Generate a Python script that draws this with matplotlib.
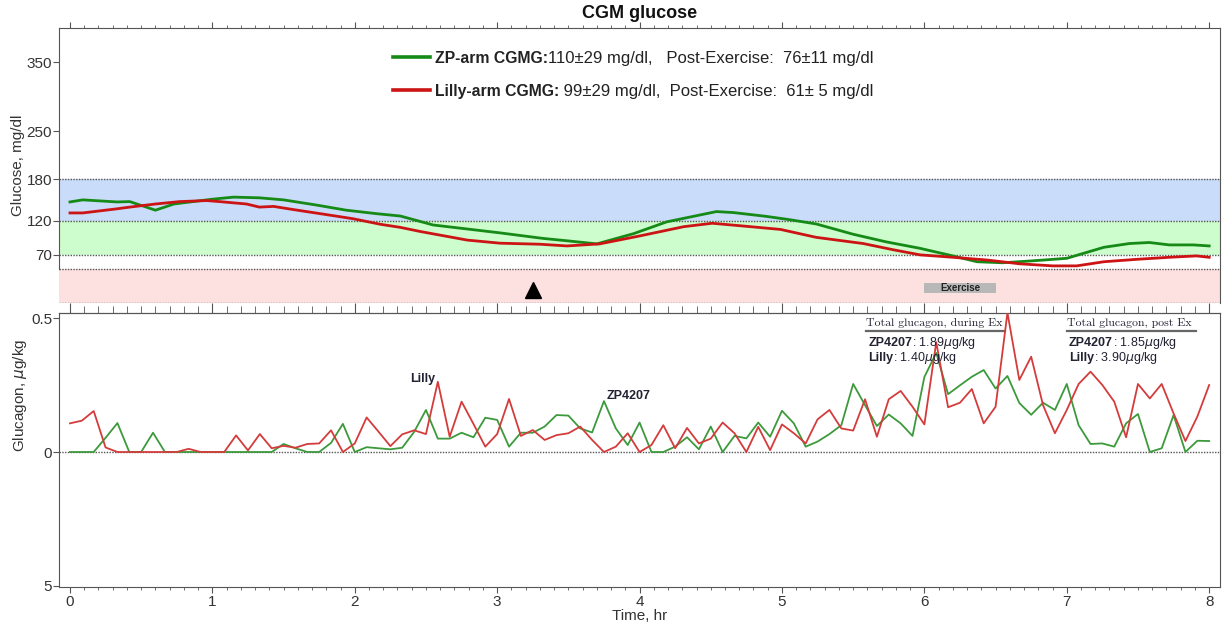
import numpy as np
import matplotlib.pyplot as plt
from matplotlib.patches import Rectangle
from matplotlib.ticker import MultipleLocator

plt.rcParams['font.family'] = ['Liberation Sans', 'DejaVu Sans']
plt.rcParams['mathtext.fontset'] = 'dejavusans'

# ---- CGM glucose (mg/dl) ----
zp_glu_hr = [0, 0.09, 0.33, 0.42, 0.6, 0.73, 1.0, 1.15, 1.33, 1.5, 1.73, 1.94, 2.15, 2.32,
             2.55, 3.02, 3.32, 3.49, 3.7, 3.96, 4.19, 4.54, 4.66, 4.89, 5.06, 5.24, 5.5,
             5.73, 5.97, 6.2, 6.37, 6.55, 6.77, 7.0, 7.26, 7.44, 7.58, 7.72, 7.89, 8.0]
zp_glu = [147, 150, 147, 147.5, 135, 144, 151, 154, 153, 150, 142.5, 135, 130, 126.5,
          113.5, 102, 94, 90.5, 86, 101, 118, 133, 131.5, 126, 121, 115, 100,
          89, 79.5, 68.5, 60, 58.5, 61.5, 65, 81, 86.5, 88, 84.5, 84.5, 83]

lilly_glu_hr = [0, 0.09, 0.33, 0.42, 0.6, 0.77, 0.96, 1.05, 1.24, 1.33, 1.43, 1.55, 1.85,
                1.99, 2.18, 2.32, 2.46, 2.79, 3.02, 3.3, 3.49, 3.72, 4.0, 4.31, 4.51, 4.78,
                4.99, 5.24, 5.57, 5.78, 5.97, 6.2, 6.44, 6.67, 6.9, 7.07, 7.26, 7.49, 7.72,
                7.91, 8.0]
lilly_glu = [131, 131, 137, 139.5, 144, 147.5, 149, 147.5, 144, 139.5, 140.5, 136.5, 127,
             122.5, 114.5, 110, 104, 91.5, 87, 85.5, 83, 86, 97.5, 111, 116, 111,
             107, 95.5, 86.5, 77.5, 70, 66.5, 62.5, 57, 54, 54, 60, 63.5, 66.5,
             68.5, 66.5]

# ---- glucagon doses (ug/kg), every 5 min ----
zp_gcg = [0, 0, 0, 0.053, 0.108, 0, 0, 0.072, 0, 0, 0, 0, 0, 0, 0, 0, 0, 0, 0.03, 0.014,
          0, 0, 0.034, 0.105, 0, 0.018, 0.014, 0.01, 0.016, 0.075, 0.157, 0.05, 0.05, 0.072,
          0.055, 0.128, 0.12, 0.02, 0.072, 0.072, 0.095, 0.138, 0.136, 0.088, 0.073, 0.19,
          0.088, 0.026, 0.11, 0, 0, 0.02, 0.055, 0.01, 0.095, 0, 0.06, 0.051, 0.11, 0.057,
          0.154, 0.107, 0.02, 0.039, 0.067, 0.1, 0.254, 0.175, 0.097, 0.14, 0.107, 0.06,
          0.28, 0.37, 0.216, 0.249, 0.281, 0.306, 0.237, 0.284, 0.183, 0.139, 0.184, 0.157,
          0.254, 0.1, 0.03, 0.032, 0.02, 0.107, 0.142, 0, 0.014, 0.138, 0, 0.042, 0.041]
lilly_gcg = [0.107, 0.117, 0.153, 0.017, 0, 0, 0, 0, 0, 0, 0.012, 0, 0, 0, 0.062, 0.006,
             0.067, 0.014, 0.023, 0.016, 0.03, 0.032, 0.081, 0, 0.032, 0.129, 0.076, 0.022,
             0.066, 0.081, 0.067, 0.262, 0.057, 0.188, 0.105, 0.02, 0.067, 0.198, 0.06,
             0.082, 0.045, 0.063, 0.07, 0.095, 0.045, 0, 0.02, 0.07, 0, 0.026, 0.1, 0.014,
             0.09, 0.032, 0.05, 0.11, 0.07, 0, 0.094, 0.007, 0.103, 0.07, 0.032, 0.122,
             0.157, 0.088, 0.08, 0.197, 0.057, 0.197, 0.228, 0.169, 0.103, 0.41, 0.167,
             0.184, 0.235, 0.107, 0.169, 0.52, 0.269, 0.356, 0.175, 0.07, 0.157, 0.254,
             0.3, 0.25, 0.188, 0.055, 0.254, 0.2, 0.254, 0.144, 0.041, 0.132, 0.25]
gcg_hr = np.arange(len(zp_gcg)) * 5 / 60.0

glu_ticks = [70, 120, 180, 250, 350]
gcg_ticks = [-0.5, 0, 0.5]
gcg_ticklabels = ['5', '0', '0.5']

dose_hr = 3.25
exercise = (6.0, 6.5)

zp_line = '#168a16'
lilly_line = '#cc1414'
zp_thin = '#3c9a3c'
lilly_thin = '#d43c3c'
spine_c = '#555555'
txt_c = '#333333'

W, H = 1223, 625
fig = plt.figure(figsize=(W / 100, H / 100), dpi=100)
ax1 = fig.add_axes([59 / W, 1 - 303 / H, 1161 / W, 275 / H])
ax2 = fig.add_axes([59 / W, 1 - 587 / H, 1161 / W, 274 / H])
renderer = fig.canvas.get_renderer()


def bold_then_regular(ax, x, y, bold, rest, size, color, rest_size=None):
    # bold label followed by normal text on the same baseline
    tb = ax.text(x, y, bold, transform=ax.transAxes, fontsize=size, fontweight='bold',
                 ha='left', va='baseline', color=color)
    bb = tb.get_window_extent(renderer=renderer)
    x1 = ax.transAxes.inverted().transform((bb.x1, bb.y0))[0]
    ax.text(x1, y, rest, transform=ax.transAxes, fontsize=rest_size or size, ha='left',
            va='baseline', color=color)


xlim = (-0.077, 8.076)

# ---------------- top panel ----------------
ax1.set_xlim(*xlim)
ax1.set_ylim(0, 400)
ax1.axhspan(120, 180, color='#c9dcfa', lw=0, zorder=0)
ax1.axhspan(70, 120, color='#cdfccd', lw=0, zorder=0)
ax1.axhspan(0, 50, color='#fde0e0', lw=0, zorder=0)
for yv in [180, 120, 70, 50, 0]:
    ax1.axhline(yv, color='#555555', ls=(0, (1, 1)), lw=1, zorder=1)

ax1.plot(zp_glu_hr, zp_glu, color=zp_line, lw=2.0, zorder=3)
ax1.plot(lilly_glu_hr, lilly_glu, color=lilly_line, lw=2.0, zorder=3)

ax1.plot([dose_hr], [19], marker='^', ms=12, color='k', zorder=4)
ax1.add_patch(Rectangle((exercise[0], 14.5), exercise[1] - exercise[0], 14.5,
                        color='#b8b8b8', lw=0, zorder=2))
ax1.text(sum(exercise) / 2, 21.5, 'Exercise', ha='center', va='center',
         fontsize=7, fontweight='bold', color='#222222', zorder=5)

for s in ax1.spines.values():
    s.set_color(spine_c)
ax1.spines['bottom'].set_visible(False)
ax1.spines['left'].set_bounds(50, 400)
ax1.set_yticks(glu_ticks)
ax1.xaxis.tick_top()
ax1.xaxis.set_major_locator(MultipleLocator(1))
ax1.xaxis.set_minor_locator(MultipleLocator(0.1))
ax1.tick_params(axis='x', which='major', length=4.5, color=spine_c, labeltop=False)
ax1.tick_params(axis='x', which='minor', length=2.5, color=spine_c)
ax1.tick_params(axis='y', length=4, color=spine_c, labelsize=11, labelcolor=txt_c, pad=1)
ax1.set_ylabel('Glucose, mg/dl', fontsize=11, color=txt_c)
ax1.yaxis.set_label_coords(-0.029, 0.5)

# legend-like text
leg = [(zp_line, 'ZP-arm CGMG:', '110\u00b129 mg/dl,   Post-Exercise:  76\u00b111 mg/dl', 0.8945),
       (lilly_line, 'Lilly-arm CGMG:', ' 99\u00b129 mg/dl,  Post-Exercise:  61\u00b1 5 mg/dl', 0.7745)]
for col, bold, rest, yy in leg:
    ax1.plot([0.2877, 0.3196], [yy, yy], color=col, lw=2.6, transform=ax1.transAxes)
    bold_then_regular(ax1, 0.324, yy - 0.021, bold, rest, 11.3, '#222222', rest_size=12)

fig.text(640 / W, 1 - 14 / H, 'CGM glucose', ha='center', va='center',
         fontsize=13, fontweight='bold', color='#111111')

# ---------------- bottom panel ----------------
ax2.set_xlim(*xlim)
ax2.set_ylim(-0.504, 0.519)
ax2.axhline(0, color='#555555', ls=(0, (1, 1)), lw=1, zorder=1)
ax2.plot(gcg_hr, zp_gcg, color=zp_thin, lw=1.3, zorder=3)
ax2.plot(gcg_hr, lilly_gcg, color=lilly_thin, lw=1.3, zorder=3)

for s in ax2.spines.values():
    s.set_color(spine_c)
ax2.set_yticks(gcg_ticks)
ax2.set_yticklabels(gcg_ticklabels)
ax2.xaxis.set_major_locator(MultipleLocator(1))
ax2.xaxis.set_minor_locator(MultipleLocator(0.1))
ax2.tick_params(axis='x', which='major', length=4, color=spine_c, labelsize=11,
                labelcolor=txt_c, pad=2)
ax2.tick_params(axis='x', which='minor', length=2.5, color=spine_c)
ax2.tick_params(axis='y', length=4, color=spine_c, labelsize=11, labelcolor=txt_c, pad=1)
top = ax2.secondary_xaxis('top')
top.xaxis.set_major_locator(MultipleLocator(1))
top.xaxis.set_minor_locator(MultipleLocator(0.1))
top.tick_params(axis='x', which='major', length=7, color=spine_c, labeltop=False)
top.tick_params(axis='x', which='minor', length=5, color=spine_c)
top.spines['top'].set_color(spine_c)

ax2.set_xlabel('Time, hr', fontsize=11, color=txt_c, labelpad=0)
ax2.set_ylabel('Glucagon, $\\mu$g/kg', fontsize=11, color=txt_c)
ax2.yaxis.set_label_coords(-0.026, 0.7)

# peak labels
i_l = int(np.argmax(lilly_gcg[:40]))
ax2.text(gcg_hr[i_l] - 0.02, lilly_gcg[i_l] + 0.012, 'Lilly', ha='right', va='center',
         fontsize=9, fontweight='bold', color='#222233')
i_z = int(np.argmax(zp_gcg[:60]))
ax2.text(gcg_hr[i_z] + 0.02, zp_gcg[i_z] + 0.02, 'ZP4207', ha='left', va='center',
         fontsize=9, fontweight='bold', color='#222233')

# total glucagon boxes
boxes = [(0.695, 0.815, 'Total glucagon, during Ex', '1.89', '1.40'),
         (0.868, 0.979, 'Total glucagon, post Ex', '1.85', '3.90')]
for x0, x1, head, zpv, lyv in boxes:
    ax2.text(x0, 0.9635, head, transform=ax2.transAxes, family='cmr10', fontsize=8.5,
             ha='left', va='center', color='#222233')
    ax2.plot([x0, x1], [0.934, 0.934], transform=ax2.transAxes, color='#666666', lw=1.6,
             clip_on=False)
    for yy, name, val in [(0.881, 'ZP4207', zpv), (0.823, 'Lilly', lyv)]:
        bold_then_regular(ax2, x0 + 0.002, yy, name, ': ' + val + '$\\mu$g/kg', 9, '#222233')

fig.savefig('out.png', dpi=100)
